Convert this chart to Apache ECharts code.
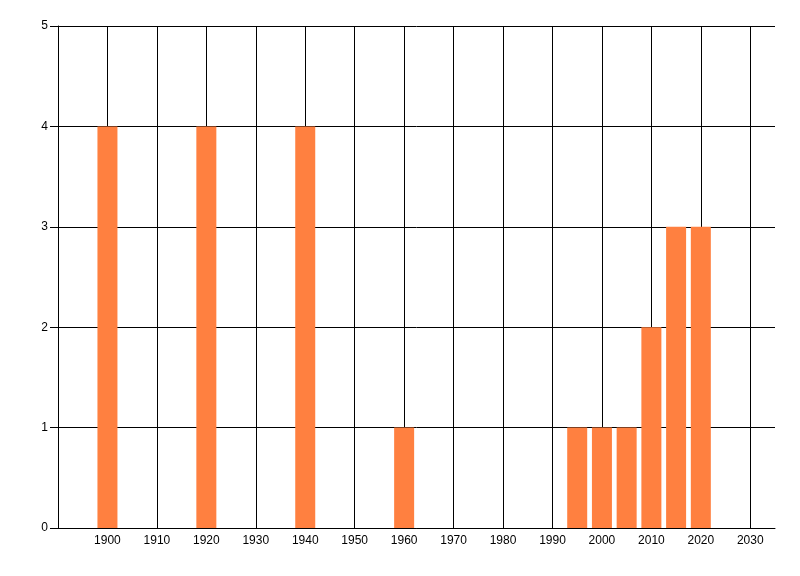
<!DOCTYPE html>
<html>
<head>
<meta charset="utf-8">
<script src="https://cdn.jsdelivr.net/npm/echarts@6/dist/echarts.min.js"></script>
<style>html,body{margin:0;padding:0;background:#fff}#c{width:800px;height:576px}</style>
</head>
<body>
<div id="c"></div>
<script>
const years = [1900, 1920, 1940, 1960, 1995, 2000, 2005, 2010, 2015, 2020];
const counts = [4, 4, 4, 1, 1, 1, 1, 2, 3, 3];
const xMin = 1890, xMax = 2035, xStep = 10;
const yMin = 0, yMax = 5, yStep = 1;

const chart = echarts.init(document.getElementById('c'), null, {renderer: 'canvas'});
chart.setOption({
  animation: false,
  backgroundColor: '#ffffff',
  grid: {left: 58, top: 26, right: 25, bottom: 48, containLabel: false},
  xAxis: {
    type: 'value', min: xMin, max: xMax, interval: xStep,
    axisLine: {show: true, lineStyle: {color: '#000', width: 1}},
    axisTick: {show: false},
    axisLabel: {show: true, showMinLabel: false, showMaxLabel: false, color: '#000',
      fontFamily: 'Liberation Sans', fontSize: 12, margin: 7,
      formatter: v => String(v)},
    splitLine: {show: true, showMinLine: false, showMaxLine: false, lineStyle: {color: '#000', width: 1}}
  },
  yAxis: {
    type: 'value', min: yMin, max: yMax, interval: yStep,
    axisLine: {show: true, lineStyle: {color: '#000', width: 1}},
    axisTick: {show: true, length: 8, lineStyle: {color: '#000', width: 1}},
    axisLabel: {color: '#000', fontFamily: 'Liberation Sans', fontSize: 12, margin: 10},
    splitLine: {show: true, lineStyle: {color: '#000', width: 1}}
  },
  series: [{
    type: 'bar',
    data: years.map((y, i) => [y, counts[i]]),
    barWidth: 20,
    itemStyle: {color: '#FF8040'},
    z: 1
  }]
});
</script>
</body>
</html>
